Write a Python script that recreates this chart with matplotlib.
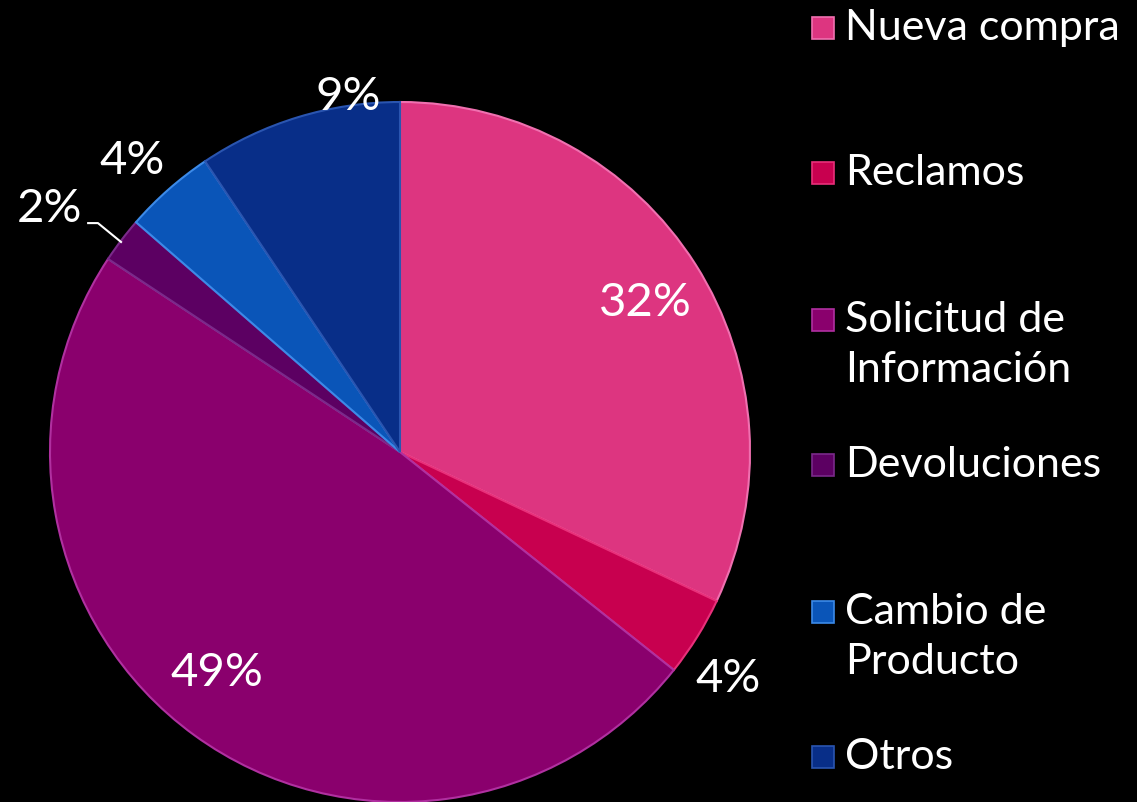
#! /usr/bin/env python3
"""
Pie chart of customer contact reasons, with the legend drawn down the right side.
"""
import numpy as np
import matplotlib
matplotlib.use('Agg')
import matplotlib.pyplot as plt
from matplotlib.patches import Rectangle

categories = ['Nueva compra', 'Reclamos', 'Solicitud de\nInformación',
              'Devoluciones', 'Cambio de\nProducto', 'Otros']
shares = [32.0, 3.7, 48.6, 2.1, 4.2, 9.4]
colors = ['#DD3580', '#C8004F', '#8A006D', '#5C0062', '#0A55B8', '#082E88']
edge_colors = ['#F070B0', '#E8307A', '#B030A0', '#7A2A8A', '#3C8AE8', '#2A55B0']

# where each percentage sits: distance in pie radii, and degrees off the
# middle of its slice
label_radius = [0.82, 1.14, 0.82, 1.22, 1.13, 1.025]
label_shift = [-1.2, -2.9, -3.6, 2.5, 1.3, -8.7]

plt.rcParams['font.family'] = ['Lato', 'DejaVu Sans']

W, H = 1137, 802
fig = plt.figure(figsize=(W / 100, H / 100), dpi=100, facecolor='black')
ax = fig.add_axes([50 / W, 0, 700 / W, 700 / H])
ax.set_facecolor('black')

wedges, _ = ax.pie(shares, colors=colors, startangle=90, counterclock=False,
                   radius=1.0, wedgeprops=dict(linewidth=1.5))
for w, ec in zip(wedges, edge_colors):
    w.set_edgecolor(ec)

for w, share, r, dth in zip(wedges, shares, label_radius, label_shift):
    ang = np.deg2rad((w.theta1 + w.theta2) / 2 + dth)
    ax.text(r * np.cos(ang), r * np.sin(ang), '%.0f%%' % share,
            color='white', fontsize=34, ha='center', va='center')

# leader line for the small "Devoluciones" slice
ax.plot([-0.891, -0.863, -0.797], [0.654, 0.654, 0.60], color='white', lw=1.5)

ax.set_xlim(-1, 1)
ax.set_ylim(-1, 1)
ax.set_aspect('equal')
ax.axis('off')

# legend: one entry every ~146 px, square lined up with the first line
legend_top = [28, 173, 320, 465, 612, 757]
line_step = 50
for name, col, ec, y in zip(categories, colors, edge_colors, legend_top):
    fy = 1 - y / H
    fig.patches.append(Rectangle((812 / W, fy - 11 / H), 22 / W, 22 / H,
                                 transform=fig.transFigure, facecolor=col,
                                 edgecolor=ec, linewidth=1.2))
    for i, line in enumerate(name.split('\n')):
        fig.text(845 / W, fy - i * line_step / H, line, color='white',
                 fontsize=31, ha='left', va='center')

fig.savefig('out.png', dpi=100, facecolor='black')
